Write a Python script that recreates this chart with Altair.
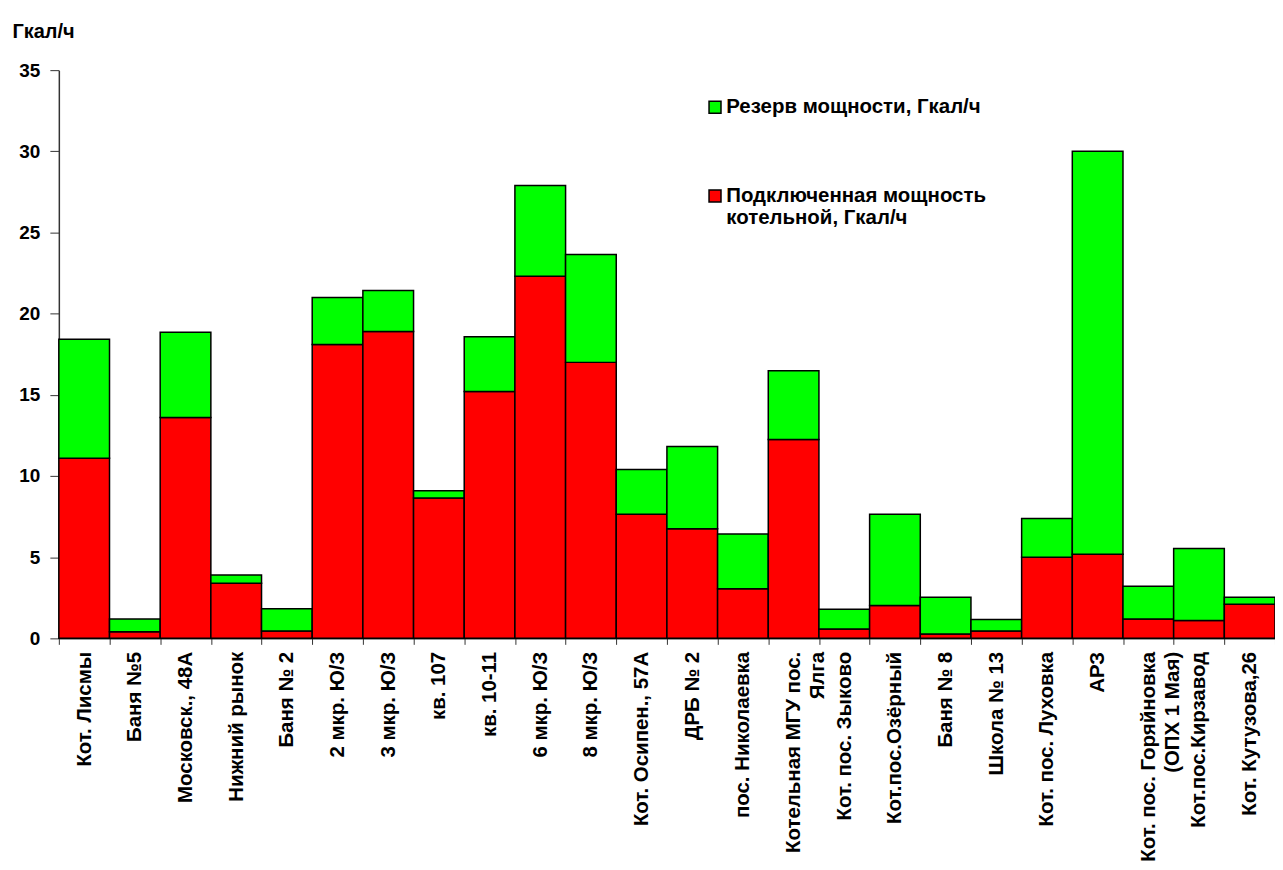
import altair as alt
import pandas as pd

names = [
    "Кот. Лисмы", "Баня №5", "Московск., 48А", "Нижний рынок", "Баня № 2",
    "2 мкр. Ю/З", "3 мкр. Ю/З", "кв. 107", "кв. 10-11", "6 мкр. Ю/З",
    "8 мкр. Ю/З", "Кот. Осипен., 57А", "ДРБ № 2", "пос. Николаевка",
    "Котельная МГУ пос.\nЯлга", "Кот. пос. Зыково", "Кот.пос.Озёрный",
    "Баня № 8", "Школа № 13", "Кот. пос. Луховка", "АРЗ",
    "Кот. пос. Горяйновка\n(ОПХ 1 Мая)", "Кот.пос.Кирзавод", "Кот. Кутузова,26",
]
connected = [11.1, 0.4, 13.6, 3.4, 0.45, 18.1, 18.9, 8.65, 15.2, 22.3,
             17.0, 7.65, 6.75, 3.05, 12.25, 0.57, 2.03, 0.27, 0.45, 5.0,
             5.18, 1.2, 1.1, 2.1]
reserve = [7.33, 0.8, 5.25, 0.5, 1.38, 2.9, 2.52, 0.45, 3.38, 5.6,
           6.65, 2.75, 5.07, 3.38, 4.23, 1.23, 5.61, 2.26, 0.71, 2.38,
           24.82, 2.01, 4.44, 0.43]

s_res = "Резерв мощности, Гкал/ч"
s_con = "Подключенная мощность\nкотельной, Гкал/ч"

rows = []
for n, c, r in zip(names, connected, reserve):
    rows.append({"name": n, "series": s_con, "value": c, "ord": 0})
    rows.append({"name": n, "series": s_res, "value": r, "ord": 1})
df = pd.DataFrame(rows)

FONT = "Liberation Sans"

chart = alt.Chart(df).mark_bar(stroke="black", strokeWidth=1.5).encode(
    x=alt.X("name:N", sort=names, title=None,
            scale=alt.Scale(paddingInner=0, paddingOuter=0),
            axis=alt.Axis(labelAngle=-90, labelAlign="right", labelBaseline="middle",
                          labelExpr="split(datum.label, '\\n')",
                          labelFont=FONT, labelFontWeight="bold", labelFontSize=20.5,
                          labelColor="black", labelPadding=7, labelLimit=400,
                          tickBand="extent", tickSize=6, tickColor="#333333",
                          domainColor="#333333", domainWidth=1.5, grid=False,
                          labelLineHeight=24)),
    y=alt.Y("value:Q", stack="zero",
            scale=alt.Scale(domain=[0, 35], nice=False),
            axis=alt.Axis(values=[0, 5, 10, 15, 20, 25, 30, 35], grid=False,
                          title="Гкал/ч", titleAngle=0, titleX=-47, titleY=-33,
                          titleAlign="left", titleBaseline="alphabetic",
                          titleFont=FONT, titleFontWeight="bold", titleFontSize=20,
                          labelFont=FONT, labelFontWeight="bold", labelFontSize=19,
                          labelColor="black", labelPadding=10, tickSize=9,
                          tickColor="#333333", domainColor="#333333", domainWidth=1.5)),
    color=alt.Color("series:N",
                    scale=alt.Scale(domain=[s_res, s_con], range=["#00FF00", "#FF0000"]),
                    legend=alt.Legend(title=None, orient="none", legendX=648, legendY=27,
                                      labelExpr="split(datum.label, '\\n')",
                                      labelFont=FONT, labelFontWeight="bold",
                                      labelFontSize=20.5, labelColor="black",
                                      labelLimit=500, symbolType="square",
                                      symbolSize=144, symbolStrokeColor="black",
                                      symbolStrokeWidth=1.5, symbolOpacity=1,
                                      rowPadding=68, labelOffset=1)),
    order=alt.Order("ord:Q"),
).properties(
    width=1220, height=570,
    padding={"left": 51, "top": 61, "right": 0, "bottom": 225},
    autosize=alt.AutoSizeParams(type="none"),
).configure_view(stroke=None)

chart.save("out.html", embed_options={"renderer": "svg", "actions": False})
